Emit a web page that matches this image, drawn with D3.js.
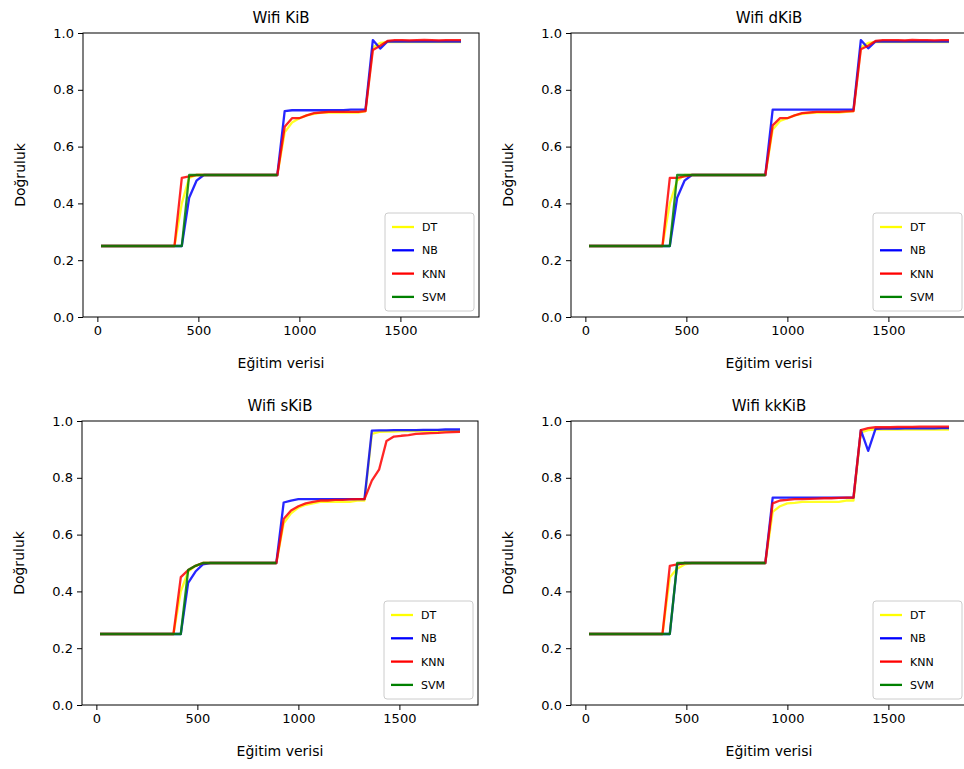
<!DOCTYPE html>
<html lang="en">
<head>
<meta charset="UTF-8">
<title>Wifi accuracy curves</title>
<script src="https://d3js.org/d3.v7.min.js"></script>
<style>
    body { margin: 0; background: #fff; }
    svg { display: block; font-family: "DejaVu Sans", sans-serif; }
    .tick text { font-size: 13px; fill: #000; }
    .tick line { stroke: #000; }
    .title { font-size: 15px; }
    .axis-label { font-size: 14px; }
    .legend text { font-size: 11px; }
</style>
</head>
<body>
<svg id="chart" width="964" height="769"></svg>
<script>
// training set sizes (50 steps, 18 .. 1800)
const trainSizes = [18, 54.4, 90.7, 127.1, 163.5, 199.8, 236.2, 272.6, 308.9, 345.3,
    381.7, 418.0, 454.4, 490.8, 527.1, 563.5, 599.9, 636.2, 672.6, 709.0,
    745.3, 781.7, 818.1, 854.4, 890.8, 927.2, 963.6, 999.9, 1036.3, 1072.7,
    1109.0, 1145.4, 1181.8, 1218.1, 1254.5, 1290.9, 1327.2, 1363.6, 1400.0, 1436.3,
    1472.7, 1509.1, 1545.4, 1581.8, 1618.2, 1654.5, 1690.9, 1727.3, 1763.6, 1800];

const models = ["DT", "NB", "KNN", "SVM"];
const modelColors = ["#ffff00", "#0000ff", "#ff0000", "#008000"];
const panelTitles = ["Wifi KiB", "Wifi dKiB", "Wifi sKiB", "Wifi kkKiB"];
const xTicks = [0, 500, 1000, 1500];
const yTicks = [0, 0.2, 0.4, 0.6, 0.8, 1.0];

// accuracy per model, one array per panel (null = not computed)
const kibDT  = [.25,.25,.25,.25,.25,.25,.25,.25,.25,.25, .25,.40,.49,.50,.50,.50,.50,.50,.50,.50,
                .50,.50,.50,.50,.50,.65,.685,.70,.71,.715, .72,.72,.72,.72,.72,.72,.725,.95,.965,.968,
                .968,.968,.968,.968,.968,.968,.968,.968,.968,.968];
const kibNB  = [.25,.25,.25,.25,.25,.25,.25,.25,.25,.25, .25,.25,.42,.48,.50,.50,.50,.50,.50,.50,
                .50,.50,.50,.50,.50,.725,.728,.728,.728,.728, .728,.728,.728,.728,.73,.73,.73,.975,.945,.97,
                .97,.97,.97,.97,.97,.97,.97,.97,.97,.97];
const kibKNN = [.25,.25,.25,.25,.25,.25,.25,.25,.25,.25, .25,.49,.495,.50,.50,.50,.50,.50,.50,.50,
                .50,.50,.50,.50,.50,.67,.70,.70,.71,.718, .72,.722,.722,.722,.722,.722,.725,.94,.955,.972,
                .975,.975,.974,.975,.976,.975,.974,.975,.975,.975];
const kibSVM = [.25,.25,.25,.25,.25,.25,.25,.25,.25,.25, .25,.25,.50,.50,.50,.50,.50,.50,.50,.50,
                .50,.50,.50,.50,.50,null,null,null,null,null, null,null,null,null,null,null,null,null,null,null,
                null,null,null,null,null,null,null,null,null,null];

const dkibDT  = [.25,.25,.25,.25,.25,.25,.25,.25,.25,.25, .25,.40,.48,.50,.50,.50,.50,.50,.50,.50,
                 .50,.50,.50,.50,.50,.66,.69,.70,.71,.715, .718,.72,.72,.72,.72,.722,.725,.95,.965,.968,
                 .968,.968,.968,.968,.968,.968,.968,.968,.968,.968];
const dkibNB  = [.25,.25,.25,.25,.25,.25,.25,.25,.25,.25, .25,.25,.42,.48,.50,.50,.50,.50,.50,.50,
                 .50,.50,.50,.50,.50,.73,.73,.73,.73,.73, .73,.73,.73,.73,.73,.73,.73,.975,.946,.97,
                 .97,.97,.97,.97,.97,.97,.97,.97,.97,.97];
const dkibKNN = [.25,.25,.25,.25,.25,.25,.25,.25,.25,.25, .25,.49,.49,.495,.50,.50,.50,.50,.50,.50,
                 .50,.50,.50,.50,.50,.675,.70,.70,.71,.718, .72,.722,.722,.722,.722,.724,.725,.943,.955,.972,
                 .975,.975,.975,.974,.976,.975,.975,.974,.975,.975];
const dkibSVM = [.25,.25,.25,.25,.25,.25,.25,.25,.25,.25, .25,.25,.50,.50,.50,.50,.50,.50,.50,.50,
                 .50,.50,.50,.50,.50,null,null,null,null,null, null,null,null,null,null,null,null,null,null,null,
                 null,null,null,null,null,null,null,null,null,null];

const skibDT  = [.25,.25,.25,.25,.25,.25,.25,.25,.25,.25, .25,.40,.47,.49,.50,.50,.50,.50,.50,.50,
                 .50,.50,.50,.50,.50,.64,.675,.695,.705,.71, .715,.715,.715,.715,.715,.72,.72,.955,.962,.963,
                 .963,.964,.964,.964,.965,.965,.965,.965,.965,.965];
const skibNB  = [.25,.25,.25,.25,.25,.25,.25,.25,.25,.25, .25,.25,.43,.47,.495,.50,.50,.50,.50,.50,
                 .50,.50,.50,.50,.50,.713,.72,.725,.725,.725, .725,.725,.725,.725,.725,.725,.725,.966,.967,.967,
                 .968,.968,.968,.968,.969,.969,.969,.97,.97,.97];
const skibKNN = [.25,.25,.25,.25,.25,.25,.25,.25,.25,.25, .25,.45,.475,.49,.50,.50,.50,.50,.50,.50,
                 .50,.50,.50,.50,.50,.655,.685,.70,.71,.715, .72,.72,.722,.722,.724,.725,.725,.79,.83,.93,
                 .945,.948,.95,.955,.956,.957,.958,.96,.961,.962];
const skibSVM = [.25,.25,.25,.25,.25,.25,.25,.25,.25,.25, .25,.25,.475,.49,.50,.50,.50,.50,.50,.50,
                 .50,.50,.50,.50,.50,null,null,null,null,null, null,null,null,null,null,null,null,null,null,null,
                 null,null,null,null,null,null,null,null,null,null];

const kkkibDT  = [.25,.25,.25,.25,.25,.25,.25,.25,.25,.25, .25,.45,.48,.495,.50,.50,.50,.50,.50,.50,
                  .50,.50,.50,.50,.50,.68,.70,.71,.712,.715, .715,.715,.715,.715,.715,.72,.72,.96,.968,.97,
                  .97,.97,.97,.97,.97,.97,.97,.97,.97,.97];
const kkkibNB  = [.25,.25,.25,.25,.25,.25,.25,.25,.25,.25, .25,.25,.495,.50,.50,.50,.50,.50,.50,.50,
                  .50,.50,.50,.50,.50,.73,.73,.73,.73,.73, .73,.73,.73,.73,.73,.73,.73,.968,.895,.972,
                  .973,.973,.973,.974,.974,.974,.974,.974,.975,.975];
const kkkibKNN = [.25,.25,.25,.25,.25,.25,.25,.25,.25,.25, .25,.49,.495,.50,.50,.50,.50,.50,.50,.50,
                  .50,.50,.50,.50,.50,.71,.72,.722,.725,.725, .726,.727,.728,.728,.729,.73,.73,.968,.975,.978,
                  .978,.978,.979,.979,.979,.98,.98,.98,.98,.98];
const kkkibSVM = [.25,.25,.25,.25,.25,.25,.25,.25,.25,.25, .25,.25,.50,.50,.50,.50,.50,.50,.50,.50,
                  .50,.50,.50,.50,.50,null,null,null,null,null, null,null,null,null,null,null,null,null,null,null,
                  null,null,null,null,null,null,null,null,null,null];

const panelSeries = [
    [kibDT, kibNB, kibKNN, kibSVM],
    [dkibDT, dkibNB, dkibKNN, dkibSVM],
    [skibDT, skibNB, skibKNN, skibSVM],
    [kkkibDT, kkkibNB, kkkibKNN, kkkibSVM]
];

// panel boxes (left, top, width, height)
const panels = [
    { left: 83, top: 33, width: 396, height: 284 },
    { left: 571, top: 33, width: 396, height: 284 },
    { left: 82, top: 421, width: 396, height: 284 },
    { left: 571, top: 421, width: 396, height: 284 }
];

const svg = d3.select("#chart");
svg.append("rect").attr("width", 964).attr("height", 769).attr("fill", "#fff");

const xPad = (d3.max(trainSizes) - d3.min(trainSizes)) * 0.05;

panels.forEach((p, pi) => {
    const g = svg.append("g").attr("transform", `translate(${p.left},${p.top})`);

    const x = d3.scaleLinear()
        .domain([d3.min(trainSizes) - xPad, d3.max(trainSizes) + xPad])
        .range([0, p.width]);
    const y = d3.scaleLinear().domain([0, 1]).range([p.height, 0]);

    // axes
    const xAxis = g.append("g")
        .attr("transform", `translate(0,${p.height})`)
        .call(d3.axisBottom(x).tickValues(xTicks).tickFormat(d3.format("d")).tickSize(5).tickPadding(4));
    const yAxis = g.append("g")
        .call(d3.axisLeft(y).tickValues(yTicks).tickFormat(d3.format(".1f")).tickSize(5).tickPadding(4));
    xAxis.select(".domain").remove();
    yAxis.select(".domain").remove();
    g.selectAll(".tick text").attr("font-family", "DejaVu Sans, sans-serif");

    // lines
    const line = d3.line()
        .defined(d => d[1] !== null)
        .x(d => x(d[0]))
        .y(d => y(d[1]));

    panelSeries[pi].forEach((vals, si) => {
        g.append("path")
            .datum(trainSizes.map((t, i) => [t, vals[i]]))
            .attr("fill", "none")
            .attr("stroke", modelColors[si])
            .attr("stroke-width", 2.3)
            .attr("stroke-opacity", 0.85)
            .attr("stroke-linejoin", "round")
            .attr("d", line);
    });

    // frame
    g.append("rect")
        .attr("width", p.width).attr("height", p.height)
        .attr("fill", "none").attr("stroke", "#000").attr("stroke-width", 1);

    // title and labels
    g.append("text").attr("class", "title")
        .attr("x", p.width / 2).attr("y", -10)
        .attr("text-anchor", "middle")
        .text(panelTitles[pi]);
    g.append("text").attr("class", "axis-label")
        .attr("x", p.width / 2).attr("y", p.height + 51)
        .attr("text-anchor", "middle")
        .text("Eğitim verisi");
    g.append("text").attr("class", "axis-label")
        .attr("transform", `translate(${-58},${p.height / 2}) rotate(-90)`)
        .attr("text-anchor", "middle")
        .text("Doğruluk");

    // legend
    const lw = 89, lh = 98;
    const leg = g.append("g").attr("class", "legend")
        .attr("transform", `translate(${p.width - lw - 5},${p.height - lh - 6})`);
    leg.append("rect")
        .attr("width", lw).attr("height", lh).attr("rx", 3)
        .attr("fill", "#fff").attr("fill-opacity", 0.8)
        .attr("stroke", "#ccc");
    models.forEach((m, i) => {
        const ly = 14 + i * 23.3;
        leg.append("line")
            .attr("x1", 7).attr("x2", 29).attr("y1", ly).attr("y2", ly)
            .attr("stroke", modelColors[i]).attr("stroke-width", 2.3);
        leg.append("text")
            .attr("x", 37).attr("y", ly + 4)
            .text(m);
    });
});
</script>
</body>
</html>
